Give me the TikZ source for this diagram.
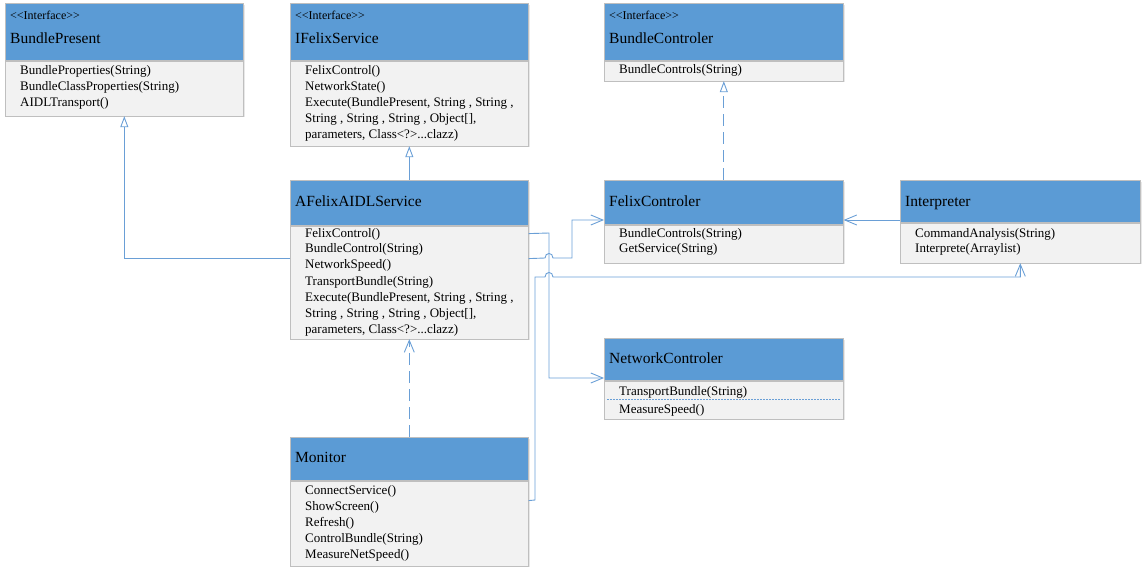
\documentclass[tikz,border=0pt]{standalone}
\usepackage{fontspec}
\setmainfont{Liberation Serif}[Ligatures=TeXOff]
\usetikzlibrary{arrows.meta,calc,shadows}
\definecolor{hdrblue}{HTML}{5B9BD5}
\definecolor{bodygray}{HTML}{F2F2F2}
\definecolor{edgegray}{HTML}{BFBFBF}
\definecolor{conn}{HTML}{6A9FD6}
\tikzset{
 boxbase/.style={draw=edgegray, line width=0.6pt, inner sep=0pt, anchor=north west,
   drop shadow={opacity=0.18, shadow xshift=1.5pt, shadow yshift=-1.5pt}},
 hdr/.style={boxbase, fill=hdrblue},
 bdy/.style={boxbase, fill=bodygray},
 ttl/.style={anchor=west, inner sep=0pt, font=\fontsize{15.5}{17}\selectfont, text height=10pt, text depth=3pt},
 ster/.style={anchor=west, inner sep=0pt, font=\fontsize{12}{13}\selectfont, text height=8pt, text depth=2pt},
 mem/.style={anchor=west, inner sep=0pt, font=\fontsize{13}{16}\selectfont, text height=9pt, text depth=3pt},
 link/.style={draw=conn, line width=0.9pt},
 real/.style={link, -{Triangle[open, length=11pt, width=8pt]}},
 dep/.style={link, -{Straight Barb[length=12pt, width=10pt]}},
 dashy/.style={dash pattern=on 12pt off 6pt},
}
\newcommand\mydots{...}
\newcommand\umlbox[6]{%
 \node[hdr, minimum width=#4pt, minimum height=#5pt] (#1H) at (#2,#3) {};
 \node[bdy, minimum width=#4pt, minimum height=#6pt] (#1) at (#1H.south west) {};
}
\newcommand\memlist[4]{\foreach \t [count=\i] in {#4} {\node[mem] (#1m\i) at (#2,{#3+16*(\i-1)}) {\t};}}
\begin{document}
\begin{tikzpicture}[x=1pt,y=-1pt]
\useasboundingbox (0,0) rectangle (1146,572);
% boxes
\umlbox{bp}{5}{3}{238}{57}{55}
\umlbox{if}{290}{3}{238}{57}{85}
\umlbox{bc}{604}{3}{239}{57}{20}
\umlbox{af}{290}{180}{238}{45}{113}
\umlbox{fc}{604}{180}{239}{44}{38}
\umlbox{in}{900}{180}{240}{42}{40}
\umlbox{nc}{604}{338}{239}{42}{38}
\umlbox{mo}{290}{437}{238}{43}{85}
% titles
\node[ster] (bpS) at (10,17) {<<Interface>>};
\node[ttl] (bpT) at (10,40) {BundlePresent};
\node[ster] (ifS) at (295,17) {<<Interface>>};
\node[ttl] (ifT) at (295,40) {IFelixService};
\node[ster] (bcS) at (609,17) {<<Interface>>};
\node[ttl] (bcT) at (609,40) {BundleControler};
\node[ttl] (afT) at (295,203) {AFelixAIDLService};
\node[ttl] (fcT) at (609,203) {FelixControler};
\node[ttl] (inT) at (905,203) {Interpreter};
\node[ttl] (ncT) at (609,360) {NetworkControler};
\node[ttl] (moT) at (295,459) {Monitor};
% members
\memlist{bp}{20}{72}{BundleProperties(String),BundleClassProperties(String),AIDLTransport()}
\memlist{if}{305}{72}{FelixControl(),NetworkState(),{Execute(BundlePresent, String , String ,},{String , String , String , Object[],},{parameters, Class<?>\mydots clazz)}}
\memlist{bc}{619}{71}{BundleControls(String)}
\memlist{af}{305}{234}{FelixControl(),BundleControl(String),NetworkSpeed(),TransportBundle(String),{Execute(BundlePresent, String , String ,},{String , String , String , Object[],},{parameters, Class<?>\mydots clazz)}}
\memlist{fc}{619}{234}{BundleControls(String),GetService(String)}
\memlist{in}{915}{234}{CommandAnalysis(String),Interprete(Arraylist)}
\node[mem] (ncm1) at (619,392) {TransportBundle(String)};
\node[mem] (ncm2) at (619,410) {MeasureSpeed()};
\draw[draw=conn, line width=0.8pt, dash pattern=on 2pt off 1pt] ([xshift=3pt,yshift=-19pt]nc.north west) -- ([xshift=-3pt,yshift=-19pt]nc.north east);
\memlist{mo}{305}{491}{ConnectService(),ShowScreen(),Refresh(),ControlBundle(String),MeasureNetSpeed()}
% connectors
\draw[real] ([yshift=-33pt]af.north west) -| (bp.south);
\draw[real] (afH.north) -- (if.south);
\draw[real, dashy] (fcH.north) -- (bc.south);
\draw[dep, dashy] (moH.north) -- (af.south);
\draw[dep] ([yshift=-40pt]inH.north west) -- ([yshift=-40pt]fcH.north east);
\coordinate (k1) at (549,233);
\coordinate (k2) at (549,378);
\draw[dep] ([yshift=-8pt]af.north east) -- (k1) -- (k2) -- ([yshift=-40pt]ncH.north west);
\draw[dep] ([yshift=-33pt]af.north east) -- (545,258) .. controls (545,252) and (553,252) .. (553,258) -- (572,258) -- (572,220) -- ([yshift=-40pt]fcH.north west);
\draw[dep] ([yshift=-20pt]mo.north east) -- (535,500) -- (535,277) -- (545,277) .. controls (545,271) and (553,271) .. (553,277) -| (in.south);
\end{tikzpicture}
\end{document}
